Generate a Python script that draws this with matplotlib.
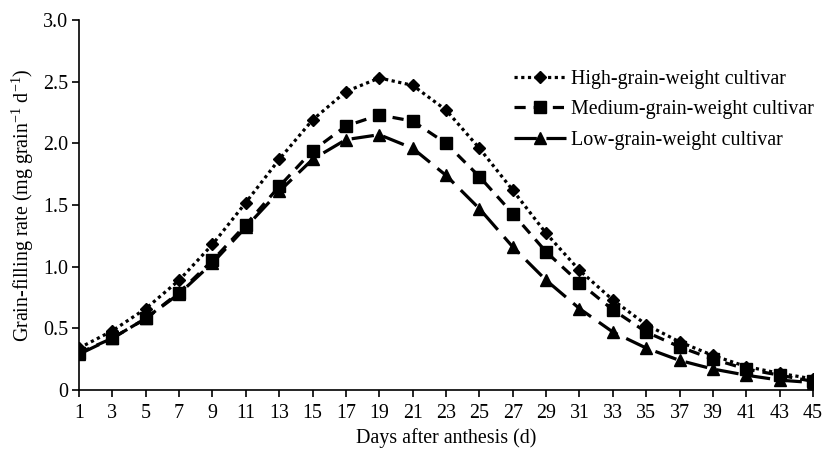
import numpy as np
import matplotlib
matplotlib.use('Agg')
import matplotlib.pyplot as plt

plt.rcParams['font.family'] = 'Liberation Serif'
plt.rcParams['mathtext.fontset'] = 'custom'
plt.rcParams['mathtext.rm'] = 'Liberation Serif'
plt.rcParams['mathtext.it'] = 'Liberation Serif:italic'
plt.rcParams['font.size'] = 14.4

days = [1, 3, 5, 7, 9, 11, 13, 15, 17, 19, 21, 23, 25, 27, 29, 31, 33, 35, 37, 39, 41, 43, 45]
high = [0.34, 0.48, 0.66, 0.89, 1.18, 1.52, 1.87, 2.19, 2.42, 2.53, 2.47, 2.27, 1.96, 1.62,
        1.27, 0.97, 0.73, 0.53, 0.39, 0.28, 0.19, 0.135, 0.09]
medium = [0.30, 0.42, 0.58, 0.79, 1.05, 1.34, 1.65, 1.94, 2.14, 2.23, 2.18, 2.00, 1.73, 1.43,
          1.12, 0.87, 0.65, 0.47, 0.35, 0.25, 0.17, 0.12, 0.07]
low = [0.29, 0.42, 0.58, 0.78, 1.03, 1.32, 1.61, 1.87, 2.03, 2.07, 1.96, 1.74, 1.47, 1.16,
       0.89, 0.66, 0.47, 0.34, 0.24, 0.17, 0.12, 0.08, 0.06]
labels = ['High-grain-weight cultivar', 'Medium-grain-weight cultivar', 'Low-grain-weight cultivar']
yticks = [0, 0.5, 1.0, 1.5, 2.0, 2.5, 3.0]
yticklabels = ['0', '0.5', '1.0', '1.5', '2.0', '2.5', '3.0']

fig = plt.figure(figsize=(8.24, 4.49), dpi=100)
ax = fig.add_axes([0.0959, 0.1314, 0.8908, 0.8241])

ax.plot(days, high, linestyle=(0, (1, 1.1)), linewidth=2.3, color='black',
        marker='D', markersize=6.5, label=labels[0])
ax.plot(days, medium, linestyle=(0, (3.5, 2.5)), linewidth=2.3, color='black',
        marker='s', markersize=8.5, label=labels[1])
ax.plot(days, low, linestyle=(0, (7, 3)), linewidth=2.3, color='black',
        marker='^', markersize=8.5, label=labels[2])

ax.set_xlim(1, 45)
ax.set_ylim(0, 3.0)
ax.set_xticks(days)
ax.set_yticks(yticks)
ax.set_yticklabels(yticklabels)
ax.spines['top'].set_visible(False)
ax.spines['right'].set_visible(False)
ax.spines['left'].set_linewidth(1.2)
ax.spines['bottom'].set_linewidth(1.2)
ax.tick_params(direction='out', length=5, width=1.2, labelsize=14.4)
ax.tick_params(axis='x', pad=5)
ax.tick_params(axis='y', pad=3)

ax.set_xlabel('Days after anthesis (d)', fontsize=14.4, labelpad=4)
ax.set_ylabel('Grain-filling rate (mg grain$^{-1}$ d$^{-1}$)', fontsize=14.4, labelpad=5)

leg = ax.legend(loc='upper left', bbox_to_anchor=(0.582, 0.886), frameon=False, borderaxespad=0,
                fontsize=14.4, handlelength=2.6, handletextpad=0.25, labelspacing=0.56)

plt.savefig('out.png', dpi=100)
